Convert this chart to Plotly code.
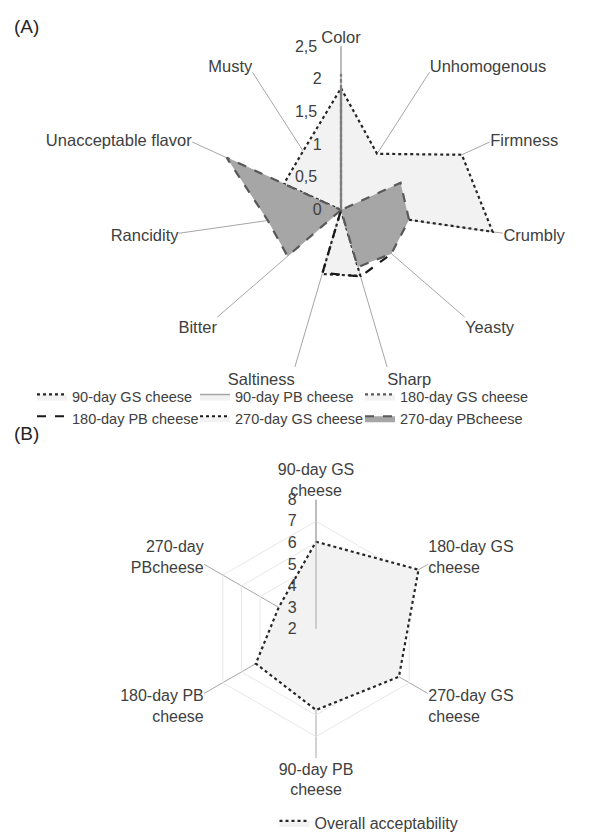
import plotly.graph_objects as go

# ---- Panel A: sensory defects ----
attributes = ["Color", "Unhomogenous", "Firmness", "Crumbly", "Yeasty", "Sharp",
              "Saltiness", "Bitter", "Rancidity", "Unacceptable flavor", "Musty"]

gs_90 = [1.86, 1.02, 2.03, 2.34, 0.0, 1.05, 1.02, 0.0, 0.0, 0.96, 1.07]
pb_90 = [0.0] * 11
gs_180 = [2.08, 0.0, 0.0, 0.0, 0.0, 0.0, 0.0, 0.0, 0.0, 0.0, 0.0]
pb_180 = [0.0, 0.0, 0.0, 0.0, 1.02, 1.06, 1.0, 0.0, 0.0, 0.0, 0.0]
gs_270 = [0.0] * 11
pb_270 = [1.86, 0.0, 1.0, 1.05, 1.02, 0.91, 0.0, 1.08, 1.13, 1.92, 0.0]

radial_ticks_a = [0, 0.5, 1, 1.5, 2, 2.5]
radial_text_a = ["0", "0,5", "1", "1,5", "2", "2,5"]

# ---- Panel B: overall acceptability ----
samples = ["90-day GS<br>cheese", "180-day GS<br>cheese", "270-day GS<br>cheese",
           "90-day PB<br>cheese", "180-day PB<br>cheese", "270-day<br>PBcheese"]
acceptability = [6.05, 7.5, 6.45, 5.77, 5.23, 4.0]
radial_ticks_b = [2, 3, 4, 5, 6, 7, 8]
radial_text_b = ["2", "3", "4", "5", "6", "7", "8"]

FONT = "Liberation Sans, Arial, sans-serif"
TXT = "#404040"
LIGHT = "#f2f2f2"
DARK = "#a6a6a6"
PAD = "\u00a0"


def closed(vals, cats):
    return vals + vals[:1], cats + cats[:1]


def left_of_axis(labels):
    # radial labels sit centred on the spoke; trailing padding pushes them left
    return [t + PAD * (len(t) // 2 + 3) for t in labels]


# (name, values, fill, line, legend column)
series_a = [
    ("90-day GS cheese", gs_90, LIGHT, dict(color="#262626", width=2.2, dash="dot"), "legend"),
    ("90-day PB cheese", pb_90, LIGHT, dict(color="#a6a6a6", width=1.5, dash="solid"), "legend3"),
    ("180-day GS cheese", gs_180, LIGHT, dict(color="#595959", width=2.2, dash="dot"), "legend4"),
    ("180-day PB cheese", pb_180, "rgba(0,0,0,0)", dict(color="#1a1a1a", width=2.2, dash="dash"), "legend"),
    ("270-day GS cheese", gs_270, LIGHT, dict(color="#1a1a1a", width=2.2, dash="dot"), "legend3"),
    ("270-day PBcheese", pb_270, DARK, dict(color="#595959", width=2.2, dash="dash"), "legend4"),
]

fig = go.Figure()

for name, vals, fc, ln, lg in series_a:
    r, th = closed(vals, attributes)
    fig.add_trace(go.Scatterpolar(
        r=r, theta=th, name=name, mode="lines", fill="toself",
        fillcolor=fc, line=ln, subplot="polar", legend=lg,
        hoverinfo="skip"))

r_b, th_b = closed(acceptability, samples)
fig.add_trace(go.Scatterpolar(
    r=r_b, theta=th_b, name="Overall acceptability", mode="lines", fill="toself",
    fillcolor=LIGHT, line=dict(color="#262626", width=2.2, dash="dot"),
    subplot="polar2", legend="legend2", hoverinfo="skip"))

W, H = 616, 840


def dom(cx, cy, rad):
    return dict(x=[(cx - rad) / W, (cx + rad) / W],
                y=[(H - cy - rad) / H, (H - cy + rad) / H])


def legend_col(x_px):
    return dict(orientation="v", x=x_px / W, y=1 - 386 / H, xanchor="left", yanchor="top",
                itemwidth=30, font=dict(size=14.5, color=TXT),
                bgcolor="rgba(0,0,0,0)", tracegroupgap=0)


fig.update_layout(
    width=W, height=H,
    margin=dict(l=0, r=0, t=0, b=0),
    paper_bgcolor="white", plot_bgcolor="white",
    font=dict(family=FONT, color=TXT, size=15),
    polar=dict(
        domain=dom(341, 213, 166),
        bgcolor="rgba(0,0,0,0)",
        angularaxis=dict(
            categoryorder="array", categoryarray=attributes,
            rotation=90, direction="clockwise",
            showline=False, showgrid=True, gridcolor="#a6a6a6", gridwidth=1,
            ticks="", tickfont=dict(size=16.5, color=TXT)),
        radialaxis=dict(
            range=[0, 2.5], angle=90, side="counterclockwise",
            tickvals=radial_ticks_a, ticktext=left_of_axis(radial_text_a),
            showgrid=False, showline=True, linecolor="#a6a6a6", linewidth=1,
            ticks="", tickfont=dict(size=16, color=TXT), tickangle=90),
    ),
    polar2=dict(
        domain=dom(316, 638, 131),
        bgcolor="rgba(0,0,0,0)",
        gridshape="linear",
        angularaxis=dict(
            categoryorder="array", categoryarray=samples,
            rotation=90, direction="clockwise",
            showline=False, showgrid=True, gridcolor="#a6a6a6", gridwidth=1,
            ticks="", tickfont=dict(size=16, color=TXT)),
        radialaxis=dict(
            range=[2, 8], angle=90, side="counterclockwise",
            tickvals=radial_ticks_b, ticktext=left_of_axis(radial_text_b),
            showgrid=True, gridcolor="#e8e8e8", gridwidth=1,
            showline=True, linecolor="#a6a6a6", linewidth=1,
            ticks="", tickfont=dict(size=16, color=TXT), tickangle=90),
    ),
    legend=legend_col(32),
    legend3=legend_col(195),
    legend4=legend_col(360),
    legend2=dict(
        orientation="h", x=369 / W, y=1 - 818 / H, xanchor="center", yanchor="top",
        itemwidth=30, font=dict(size=16, color=TXT), bgcolor="rgba(0,0,0,0)"),
    showlegend=True,
    annotations=[
        dict(text="(A)", x=12 / W, y=1 - 27 / H, xref="paper", yref="paper",
             xanchor="left", yanchor="middle", showarrow=False,
             font=dict(size=19, color="#262626")),
        dict(text="(B)", x=12 / W, y=1 - 440 / H, xref="paper", yref="paper",
             xanchor="left", yanchor="middle", showarrow=False,
             font=dict(size=19, color="#262626")),
    ],
)

fig.write_html("out.html")
